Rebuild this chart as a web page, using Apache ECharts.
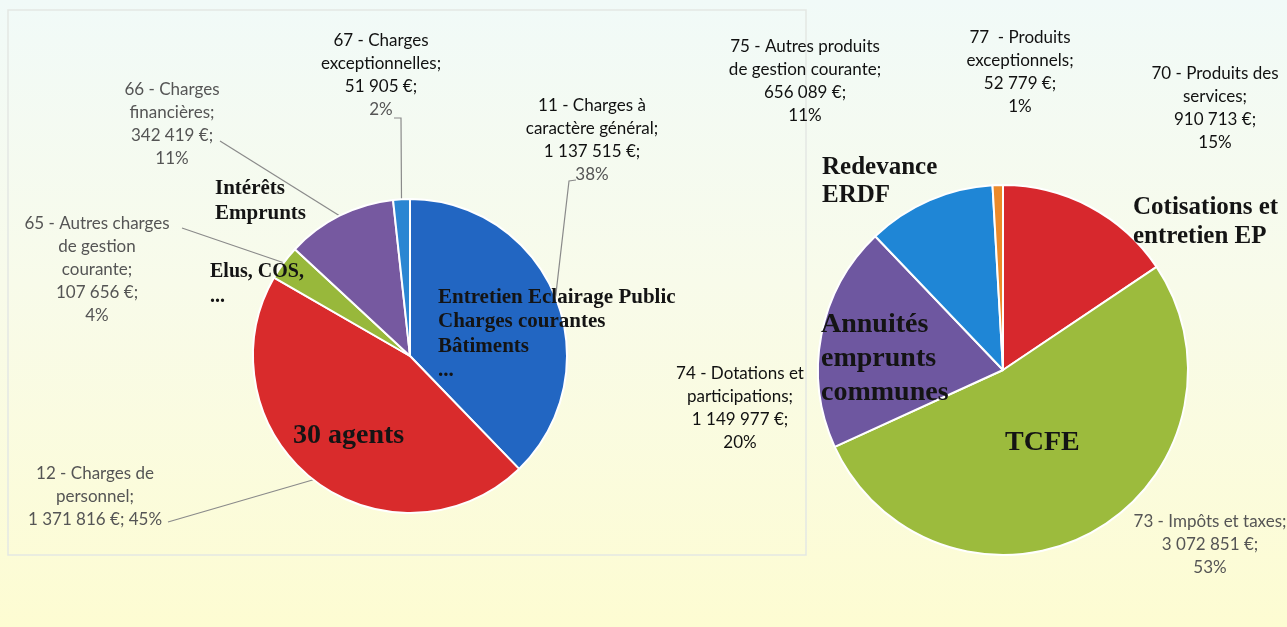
<!DOCTYPE html>
<html>
<head>
<meta charset="utf-8">
<script src="https://cdn.jsdelivr.net/npm/echarts@6/dist/echarts.min.js"></script>
<style>
  html, body { margin: 0; padding: 0; }
  #chart { width: 1287px; height: 627px; }
</style>
</head>
<body>
<div id="chart"></div>
<script>
// Dépenses (left pie)
const depNames = [
  "11 - Charges à\ncaractère général",
  "12 - Charges de\npersonnel",
  "65 - Autres charges\nde gestion\ncourante",
  "66 - Charges\nfinancières",
  "67 - Charges\nexceptionnelles"
];
const depValues = [1137515, 1371816, 107656, 342419, 51905];
const depColors = ["#2266c2", "#d92b2c", "#98b83b", "#7659a0", "#2b86d2"];

// Recettes (right pie)
const recNames = [
  "70 - Produits des\nservices",
  "73 - Impôts et taxes",
  "74 - Dotations et\nparticipations",
  "75 - Autres produits\nde gestion courante",
  "77  - Produits\nexceptionnels"
];
const recValues = [910713, 3072851, 1149977, 656089, 52779];
const recColors = ["#d7282d", "#9cbb3d", "#6e57a0", "#1f86d6", "#ec8a2a"];

// label text treatment
const pctOnSameLine = ["12 - Charges de\npersonnel"];
const darkMain = ["11 - Charges à\ncaractère général", "67 - Charges\nexceptionnelles",
  "70 - Produits des\nservices", "74 - Dotations et\nparticipations",
  "75 - Autres produits\nde gestion courante", "77  - Produits\nexceptionnels"];
const darkPct = ["70 - Produits des\nservices", "74 - Dotations et\nparticipations",
  "75 - Autres produits\nde gestion courante", "77  - Produits\nexceptionnels"];

// label placement (block centre) and leader line bends
const depLabelPos = [[592, 140], [95, 497], [97, 270], [172, 124], [381, 75]];
const depLineEnds = [
  [[569, 181], [576, 180]],
  [[168, 522], [168, 522]],
  [[182, 228], [182, 228]],
  [[220, 141], [220, 141]],
  [[401, 118], [394, 118]]
];
const recLabelPos = [[1215, 108], [1210, 545], [740, 408], [805, 81], [1020, 72]];

const fmt = v => String(v).replace(/\B(?=(\d{3})+(?!\d))/g, " ");

function labelFormatter(p) {
  const main = p.name + ";\n" + fmt(p.value) + " €;";
  const inline = pctOnSameLine.includes(p.name);
  const mStyle = darkMain.includes(p.name) ? "k" : "g";
  const pStyle = darkPct.includes(p.name) ? "k" : "g";
  return main.split("\n").map(l => "{" + mStyle + "|" + l + "}").join("\n")
    + (inline ? "{" + pStyle + "| " + p.percent + "%}" : "\n{" + pStyle + "|" + p.percent + "%}");
}

const richStyles = {
  k: { color: "#111111", fontSize: 17, fontFamily: "Lato", lineHeight: 23, align: "center" },
  g: { color: "#555555", fontSize: 17, fontFamily: "Lato", lineHeight: 23, align: "center" }
};

const chart = echarts.init(document.getElementById("chart"));

function annot(text, x, y, size, lh) {
  return {
    type: "text", x: x, y: y, z: 100,
    style: {
      text: text, fill: "#141414", fontFamily: "Liberation Serif",
      fontWeight: "bold", fontSize: size, lineHeight: lh,
      align: "left", verticalAlign: "top"
    }
  };
}

chart.setOption({
  backgroundColor: {
    type: "linear", x: 0, y: 0, x2: 0, y2: 1,
    colorStops: [
      { offset: 0, color: "#f1faf8" },
      { offset: 0.45, color: "#f8fbea" },
      { offset: 1, color: "#fdfcd2" }
    ]
  },
  graphic: [
    {
      type: "rect", z: 0,
      shape: { x: 8, y: 10, width: 798, height: 545 },
      style: { fill: "none", stroke: "#e3e7e3", lineWidth: 1.5 }
    },
    annot("Intérêts\nEmprunts", 215, 176, 21, 25),
    annot("Elus, COS,\n...", 210, 259, 20, 25),
    annot("Entretien Eclairage Public\nCharges courantes\nBâtiments\n...", 438, 285, 21, 24.5),
    annot("30 agents", 293, 420, 28, 32),
    annot("Redevance\nERDF", 822, 154, 25, 28),
    annot("Cotisations et\nentretien EP", 1133, 193, 25, 29),
    annot("Annuités\nemprunts\ncommunes", 821, 308, 28, 34),
    annot("TCFE", 1005, 427, 28, 32)
  ],
  series: [
    {
      type: "pie",
      center: [410, 356],
      radius: 157,
      startAngle: 90,
      clockwise: true,
      percentPrecision: 0,
      avoidLabelOverlap: false,
      minShowLabelAngle: 0,
      itemStyle: { borderColor: "#ffffff", borderWidth: 2 },
      data: depNames.map((n, i) => ({ name: n, value: depValues[i], itemStyle: { color: depColors[i] } })),
      label: { show: true, position: "outside", formatter: labelFormatter, rich: richStyles },
      labelLine: { show: true, length: 10, length2: 10, lineStyle: { color: "#8a8a8a", width: 1.2 } },
      labelLayout: function (params) {
        const i = params.dataIndex;
        const pos = depLabelPos[i];
        const out = { x: pos[0], y: pos[1], align: "center", verticalAlign: "middle" };
        if (params.labelLinePoints && params.labelLinePoints[0]) {
          out.labelLinePoints = [params.labelLinePoints[0], depLineEnds[i][0], depLineEnds[i][1]];
        }
        return out;
      },
      emphasis: { disabled: true }
    },
    {
      type: "pie",
      center: [1003, 370],
      radius: 185,
      startAngle: 90,
      clockwise: true,
      percentPrecision: 0,
      avoidLabelOverlap: false,
      minShowLabelAngle: 0,
      itemStyle: { borderColor: "#ffffff", borderWidth: 2 },
      data: recNames.map((n, i) => ({ name: n, value: recValues[i], itemStyle: { color: recColors[i] } })),
      label: { show: true, position: "outside", formatter: labelFormatter, rich: richStyles },
      labelLine: { show: false },
      labelLayout: function (params) {
        const pos = recLabelPos[params.dataIndex];
        return { x: pos[0], y: pos[1], align: "center", verticalAlign: "middle" };
      },
      emphasis: { disabled: true }
    }
  ]
});
</script>
</body>
</html>
